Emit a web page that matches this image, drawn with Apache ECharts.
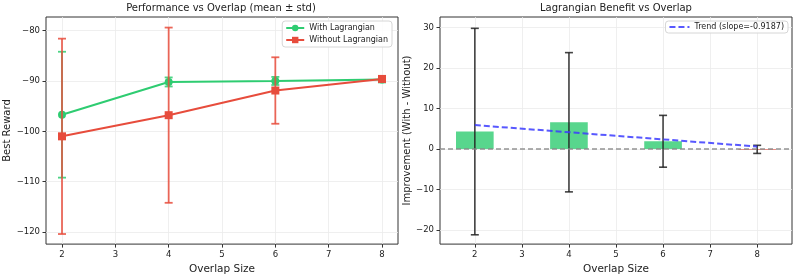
<!DOCTYPE html>
<html><head><meta charset="utf-8">
<script src="https://cdn.jsdelivr.net/npm/echarts@6/dist/echarts.min.js"></script>
<style>html,body{margin:0;padding:0;background:#fff}#c{width:797px;height:280px}</style>
</head><body><div id="c"></div>
<script>
const overlap = [2, 4, 6, 8];
const withMean = [-96.7, -90.2, -90.0, -89.7];
const withStd = [12.5, 0.9, 0.8, 0.6];
const withoutMean = [-101.0, -96.8, -91.9, -89.6];
const withoutStd = [19.4, 17.4, 6.6, 0.5];
const improveMean = [4.3, 6.6, 1.9, -0.1];
const improveStd = [25.5, 17.2, 6.4, 1.0];
const trendX = [2, 8];
const trendY = [5.9, 0.6];
const xTicks = [2, 3, 4, 5, 6, 7, 8];
const leftYTicks = [-120, -110, -100, -90, -80];
const rightYTicks = [-20, -10, 0, 10, 20, 30];

const FONT = 'DejaVu Sans';
const GREEN = '#2ecc71', RED = '#e74c3c';

function errRender(color, capHalf, lw, opacity) {
  return function (params, api) {
    const x = api.value(0), lo = api.value(1), hi = api.value(2);
    const a = api.coord([x, lo]), b = api.coord([x, hi]);
    const st = { stroke: color, lineWidth: lw, opacity: opacity };
    return { type: 'group', children: [
      { type: 'line', shape: { x1: a[0], y1: a[1], x2: b[0], y2: b[1] }, style: st },
      { type: 'line', shape: { x1: a[0] - capHalf, y1: a[1], x2: a[0] + capHalf, y2: a[1] }, style: st },
      { type: 'line', shape: { x1: b[0] - capHalf, y1: b[1], x2: b[0] + capHalf, y2: b[1] }, style: st }
    ]};
  };
}
function barRender(params, api) {
  const x = api.value(0), v = api.value(1);
  const p0 = api.coord([x - 0.4, 0]), p1 = api.coord([x + 0.4, v]);
  const y = Math.min(p0[1], p1[1]), h = Math.max(Math.abs(p1[1] - p0[1]), 0.8);
  return { type: 'rect', shape: { x: p0[0], y: y, width: p1[0] - p0[0], height: h },
    style: { fill: v >= 0 ? GREEN : RED, opacity: 0.8 } };
}
const errData = (m, s) => overlap.map((x, i) => [x, m[i] - s[i], m[i] + s[i]]);

function xAxisCfg(grid, min, max) {
  return {
    type: 'value', gridIndex: grid, min: min, max: max,
    name: 'Overlap Size', nameLocation: 'middle', nameGap: 19,
    nameTextStyle: { fontFamily: FONT, fontSize: 10.5, color: '#222' },
    axisLine: { show: false, onZero: false },
    axisTick: { show: true, length: 3.5, inside: false, lineStyle: { color: '#333' }, customValues: xTicks },
    axisLabel: { fontFamily: FONT, fontSize: 8.5, color: '#222', margin: 6, customValues: xTicks },
    splitLine: { show: true, lineStyle: { color: '#ebebeb', width: 0.8 }, customValues: xTicks }
  };
}
function yAxisCfg(grid, min, max, ticks, name, gap) {
  return {
    type: 'value', gridIndex: grid, min: min, max: max,
    name: name, nameLocation: 'middle', nameGap: gap,
    nameTextStyle: { fontFamily: FONT, fontSize: 10, color: '#222' },
    axisLine: { show: false, onZero: false },
    axisTick: { show: true, length: 3.5, lineStyle: { color: '#333' }, customValues: ticks },
    axisLabel: { fontFamily: FONT, fontSize: 8.5, color: '#222', margin: 6,
      formatter: v => (v < 0 ? '\u2212' + Math.abs(v) : '' + v), customValues: ticks },
    splitLine: { show: true, lineStyle: { color: '#ebebeb', width: 0.8 }, customValues: ticks }
  };
}

const chart = echarts.init(document.getElementById('c'), null, { renderer: 'canvas' });
chart.setOption({
  animation: false,
  backgroundColor: '#fff',
  title: [
    { text: 'Performance vs Overlap (mean \u00b1 std)', left: 221, top: 3, padding: 0, textAlign: 'center',
      textStyle: { fontFamily: FONT, fontSize: 10, fontWeight: 'normal', color: '#222' } },
    { text: 'Lagrangian Benefit vs Overlap', left: 616, top: 3, padding: 0, textAlign: 'center',
      textStyle: { fontFamily: FONT, fontSize: 10, fontWeight: 'normal', color: '#222' } }
  ],
  grid: [
    { left: 46, right: 399, top: 17, bottom: 32, show: true, borderColor: '#333', borderWidth: 1 },
    { left: 440, right: 5, top: 17, bottom: 32, show: true, borderColor: '#333', borderWidth: 1 }
  ],
  legend: [
    { data: ['With Lagrangian', 'Without Lagrangian'], orient: 'vertical', right: 405, top: 21,
      itemWidth: 18, itemHeight: 8, itemGap: 4, padding: [3, 4, 3, 3],
      borderColor: '#d6d6d6', borderWidth: 1, borderRadius: 3, backgroundColor: 'rgba(255,255,255,0.85)',
      textStyle: { fontFamily: FONT, fontSize: 8, color: '#222' } },
    { data: ['Trend (slope=-0.9187)'], right: 9, top: 21,
      itemWidth: 20, itemHeight: 8, padding: [2, 4, 2, 3],
      itemStyle: { opacity: 0 },
      borderColor: '#d6d6d6', borderWidth: 1, borderRadius: 3, backgroundColor: 'rgba(255,255,255,0.85)',
      textStyle: { fontFamily: FONT, fontSize: 8, color: '#222' } }
  ],
  xAxis: [xAxisCfg(0, 1.7, 8.3), xAxisCfg(1, 1.26, 8.74)],
  yAxis: [
    yAxisCfg(0, -122.4, -77.3, leftYTicks, 'Best Reward', 33),
    yAxisCfg(1, -23.5, 32.6, rightYTicks, 'Improvement (With - Without)', 22)
  ],
  series: [
    { type: 'custom', xAxisIndex: 0, yAxisIndex: 0, data: errData(withMean, withStd),
      renderItem: errRender(GREEN, 4, 1.8, 0.85), z: 2, silent: true },
    { name: 'With Lagrangian', type: 'line', xAxisIndex: 0, yAxisIndex: 0,
      data: overlap.map((x, i) => [x, withMean[i]]),
      symbol: 'circle', symbolSize: 8, lineStyle: { color: GREEN, width: 2 },
      itemStyle: { color: GREEN }, z: 3 },
    { type: 'custom', xAxisIndex: 0, yAxisIndex: 0, data: errData(withoutMean, withoutStd),
      renderItem: errRender(RED, 4, 1.8, 0.85), z: 4, silent: true },
    { name: 'Without Lagrangian', type: 'line', xAxisIndex: 0, yAxisIndex: 0,
      data: overlap.map((x, i) => [x, withoutMean[i]]),
      symbol: 'rect', symbolSize: 8, lineStyle: { color: RED, width: 2 },
      itemStyle: { color: RED }, z: 5 },

    { type: 'custom', xAxisIndex: 1, yAxisIndex: 1,
      data: overlap.map((x, i) => [x, improveMean[i]]), renderItem: barRender, z: 2, silent: true },
    { type: 'custom', xAxisIndex: 1, yAxisIndex: 1, data: errData(improveMean, improveStd),
      renderItem: errRender('#222', 4, 1.6, 0.85), z: 3, silent: true },
    { type: 'line', xAxisIndex: 1, yAxisIndex: 1, data: [], symbol: 'none',
      markLine: { silent: true, symbol: 'none', label: { show: false },
        lineStyle: { color: '#888', type: [5, 3], width: 1.5, opacity: 0.9 },
        data: [{ yAxis: 0 }] }, z: 4 },
    { name: 'Trend (slope=-0.9187)', type: 'line', xAxisIndex: 1, yAxisIndex: 1,
      data: trendX.map((x, i) => [x, trendY[i]]), symbol: 'none',
      lineStyle: { color: '#3b3bff', width: 2, type: [6, 3], opacity: 0.85 },
      itemStyle: { color: '#3b3bff' }, z: 5 }
  ]
});
</script></body></html>
